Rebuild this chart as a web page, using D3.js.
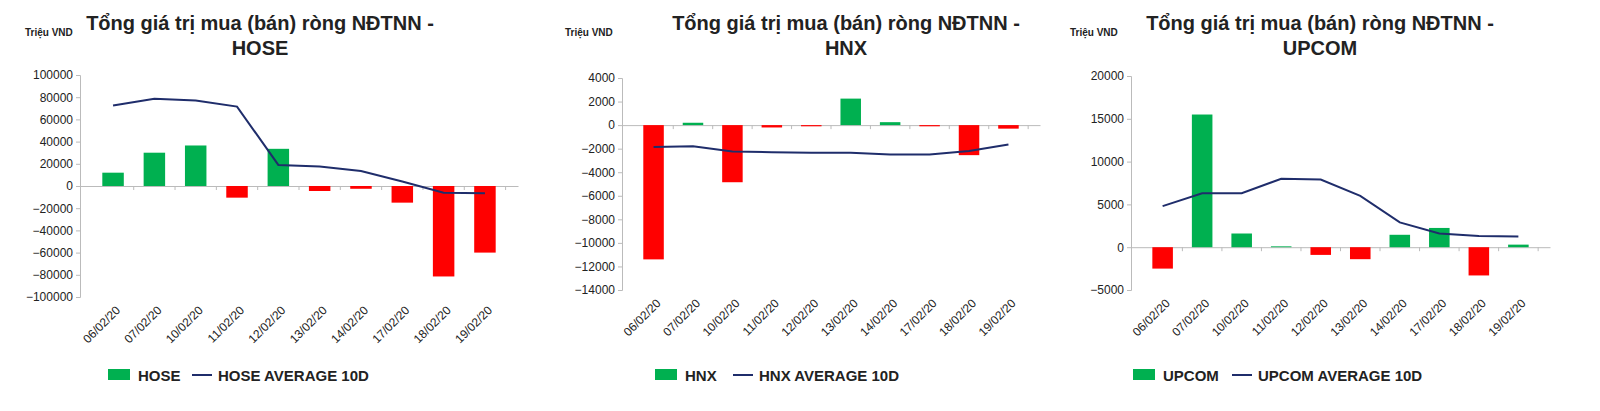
<!DOCTYPE html><html><head><meta charset="utf-8"><script src="https://cdn.jsdelivr.net/npm/d3@7"></script>
<style>body{margin:0;background:#fff;font-family:Arial,"Liberation Sans",sans-serif}</style></head><body><svg id="c" width="1600" height="411"></svg>
<script>
const dates=["06/02/20","07/02/20","10/02/20","11/02/20","12/02/20","13/02/20","14/02/20","17/02/20","18/02/20","19/02/20"];
const hose=[12000,30000,36500,-10500,33500,-4500,-2500,-15000,-81500,-60000];
const hoseAvg=[72500,78500,77000,71500,19000,17500,13500,4000,-6000,-6500];
const hnx=[-11400,200,-4850,-200,-100,2250,250,-100,-2550,-300];
const hnxAvg=[-1850,-1800,-2250,-2300,-2350,-2350,-2500,-2500,-2200,-1650];
const upcom=[-2500,15500,1600,100,-900,-1400,1450,2250,-3300,300];
const upcomAvg=[4800,6300,6300,8000,7900,6000,2900,1600,1300,1250];
const panels=[
 {name:"HOSE",vals:hose,avg:hoseAvg,dom:[-100000,100000],step:20000,x0:80,x1:518,y0:75,y1:297,tx:260,ux:25,l1:108,l2:192},
 {name:"HNX",vals:hnx,avg:hnxAvg,dom:[-14000,4000],step:2000,x0:622,x1:1040,y0:78,y1:290,tx:846,ux:565,l1:655,l2:733},
 {name:"UPCOM",vals:upcom,avg:upcomAvg,dom:[-5000,20000],step:5000,x0:1131,x1:1550,y0:76,y1:290,tx:1320,ux:1070,l1:1133,l2:1232}];
const svg=d3.select("#c");
panels.forEach(p=>{
 const g=svg.append("g");
 const x=d3.scaleBand().domain(dates).range([p.x0,p.x1]).padding(0.6);
 const y=d3.scaleLinear().domain(p.dom).range([p.y1,p.y0]);
 const ticks=d3.range(p.dom[0],p.dom[1]+1,p.step);
 const ya=g.append("g").attr("transform",`translate(${p.x0},0)`).call(d3.axisLeft(y).tickValues(ticks).tickSize(4).tickFormat(d3.format("d")));
 ya.selectAll("path,line").attr("stroke","#bbb");ya.selectAll("text").attr("font-size",12).attr("fill","#222").attr("font-family","Arial");
 const xa=g.append("g").attr("transform",`translate(0,${y(0)})`).call(d3.axisBottom(x).tickSize(0).tickFormat(""));
 xa.select("path").attr("stroke","#bbb");
 g.selectAll(".sep2").data(dates).join("line").attr("x1",d=>x(d)+x.bandwidth()/2+x.step()/2).attr("x2",d=>x(d)+x.bandwidth()/2+x.step()/2).attr("y1",y(0)).attr("y2",y(0)+4).attr("stroke","#bbb");
 g.selectAll("rect.b").data(p.vals).join("rect").attr("x",(d,i)=>x(dates[i])-x.bandwidth()*0.15).attr("width",x.bandwidth()*1.3)
  .attr("y",d=>y(Math.max(0,d))).attr("height",d=>Math.abs(y(d)-y(0))).attr("fill",d=>d>=0?"#00b050":"#ff0000");
 g.append("path").datum(p.avg).attr("fill","none").attr("stroke","#1f2d6b").attr("stroke-width",2)
  .attr("d",d3.line().x((d,i)=>x(dates[i])+x.bandwidth()/2).y(d=>y(d)));
 g.selectAll("text.xl").data(dates).join("text").attr("font-size",12).attr("fill","#222").attr("text-anchor","end")
  .attr("transform",d=>`translate(${x(d)+x.bandwidth()/2+8},${p.y1+14}) rotate(-45)`).text(d=>d);
 g.append("text").attr("x",p.tx).attr("y",30).attr("text-anchor","middle").attr("font-weight","bold").attr("font-size",20).attr("fill","#222").text("Tổng giá trị mua (bán) ròng NĐTNN -");
 g.append("text").attr("x",p.tx).attr("y",55).attr("text-anchor","middle").attr("font-weight","bold").attr("font-size",20).attr("fill","#222").text(p.name);
 g.append("text").attr("x",p.ux).attr("y",36).attr("font-weight","bold").attr("font-size",10).attr("fill","#222").text("Triệu VND");
 g.append("rect").attr("x",p.l1).attr("y",369).attr("width",22).attr("height",11).attr("fill","#00b050");
 g.append("text").attr("x",p.l1+30).attr("y",381).attr("font-weight","bold").attr("font-size",15).attr("fill","#222").text(p.name);
 g.append("line").attr("x1",p.l2).attr("x2",p.l2+20).attr("y1",375).attr("y2",375).attr("stroke","#1f2d6b").attr("stroke-width",2);
 g.append("text").attr("x",p.l2+26).attr("y",381).attr("font-weight","bold").attr("font-size",15).attr("fill","#222").text(p.name+" AVERAGE 10D");
});
</script></body></html>
